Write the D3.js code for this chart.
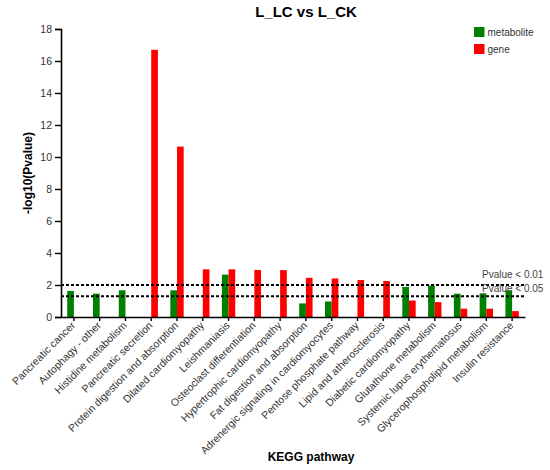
<!DOCTYPE html>
<html><head><meta charset="utf-8">
<script src="https://cdn.jsdelivr.net/npm/d3@7"></script>
<style>body{margin:0;background:#fff}svg{display:block}text{font-family:"Liberation Sans",Arial,sans-serif}</style>
</head><body><svg id="c" width="550" height="470"></svg>
<script>
const categories = ["Pancreatic cancer","Autophagy - other","Histidine metabolism","Pancreatic secretion","Protein digestion and absorption","Dilated cardiomyopathy","Leishmaniasis","Osteoclast differentiation","Hypertrophic cardiomyopathy","Fat digestion and absorption","Adrenergic signaling in cardiomyocytes","Pentose phosphate pathway","Lipid and atherosclerosis","Diabetic cardiomyopathy","Glutathione metabolism","Systemic lupus erythematosus","Glycerophospholipid metabolism","Insulin resistance"];
const metabolite = [1.63,1.46,1.67,null,1.67,null,2.65,null,null,0.85,0.97,null,null,1.88,1.96,1.46,1.48,1.67];
const gene = [null,null,null,16.7,10.65,2.98,2.98,2.94,2.93,2.45,2.41,2.31,2.25,1.03,0.93,0.52,0.52,0.37];
const seriesNames = ["metabolite","gene"];
const seriesColors = ["#008000","#ff0000"];
const yTicks = [0,2,4,6,8,10,12,14,16,18];
const thresholds = [{v:2,label:"Pvalue < 0.01"},{v:1.301,label:"Pvalue < 0.05"}];

const svg = d3.select("#c");
const m = {l:61,r:525,t:29,b:317};
const x = d3.scaleBand().domain(categories).range([m.l,m.r]).padding(0);
const xs = d3.scaleBand().domain(seriesNames).range([0,x.bandwidth()]).paddingInner(0).paddingOuter(0.93);
const y = d3.scaleLinear().domain([0,18]).range([m.b,m.t]);
const color = d3.scaleOrdinal().domain(seriesNames).range(seriesColors);

const data = [];
categories.forEach((c,i)=>{
  if(metabolite[i]!=null) data.push({c,s:"metabolite",v:metabolite[i]});
  if(gene[i]!=null) data.push({c,s:"gene",v:gene[i]});
});
svg.append("g").selectAll("rect").data(data).join("rect")
  .attr("x",d=>x(d.c)+xs(d.s)).attr("width",xs.bandwidth())
  .attr("y",d=>y(d.v)).attr("height",d=>y(0)-y(d.v))
  .attr("fill",d=>color(d.s));

// threshold lines
svg.append("g").selectAll("line").data(thresholds).join("line")
  .attr("x1",m.l).attr("x2",m.r).attr("y1",d=>y(d.v)).attr("y2",d=>y(d.v))
  .attr("stroke","#000").attr("stroke-width",2).attr("stroke-dasharray","3,2");
svg.append("g").selectAll("text").data(thresholds).join("text")
  .attr("x",482).attr("y",(d,i)=>i===0?y(d.v)-7:y(d.v)-4)
  .attr("font-size",10).attr("fill","#444").text(d=>d.label);

// y axis
const ya = svg.append("g").attr("transform",`translate(${m.l},0)`)
  .call(d3.axisLeft(y).tickValues(yTicks).tickSize(6).tickPadding(3));
ya.select(".domain").attr("stroke","#000").attr("stroke-width",1.6);
ya.selectAll(".tick line").attr("stroke","#000").attr("stroke-width",1.4);
ya.selectAll(".tick text").attr("font-size",10.5).attr("fill","#333").style("font-family","Liberation Sans, Arial, sans-serif");

// x axis
const xa = svg.append("g").attr("transform",`translate(0,${m.b})`)
  .call(d3.axisBottom(x).tickSize(4).tickSizeOuter(0));
xa.select(".domain").attr("stroke","#000").attr("stroke-width",1.6);
xa.selectAll(".tick line").attr("stroke","#000").attr("stroke-width",1.4);
xa.selectAll(".tick text").attr("font-size",10.5).attr("fill","#333")
  .style("font-family","Liberation Sans, Arial, sans-serif")
  .attr("text-anchor","end").attr("dy",null).attr("y",0)
  .attr("transform","translate(2,9) rotate(-45)");

// title & labels
svg.append("text").attr("x",306).attr("y",17).attr("text-anchor","middle")
  .attr("font-size",15).attr("font-weight","bold").text("L_LC vs L_CK");
svg.append("text").attr("transform",`translate(32,${(m.t+m.b)/2}) rotate(-90)`)
  .attr("text-anchor","middle").attr("font-size",12).attr("font-weight","bold").text("-log10(Pvalue)");
svg.append("text").attr("x",311).attr("y",461).attr("text-anchor","middle")
  .attr("font-size",12).attr("font-weight","bold").text("KEGG pathway");

// legend
const lg = svg.append("g").selectAll("g").data(seriesNames).join("g")
  .attr("transform",(d,i)=>`translate(474,${27+i*17})`);
lg.append("rect").attr("width",10.5).attr("height",10).attr("fill",d=>color(d));
lg.append("text").attr("x",13.5).attr("y",8.5).attr("font-size",10).attr("fill","#333").text(d=>d);
</script></body></html>
